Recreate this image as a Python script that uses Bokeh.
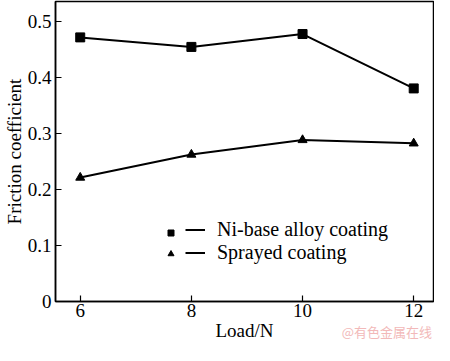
from bokeh.plotting import figure
from bokeh.models import Legend, LegendItem, FixedTicker, Range1d, LinearAxis
from bokeh.embed import file_html
from bokeh.resources import INLINE

loads = [6, 8, 10, 12]
ni_base = [0.471, 0.454, 0.477, 0.380]
sprayed = [0.221, 0.262, 0.288, 0.282]
x_ticks = [6, 8, 10, 12]
y_ticks = [0, 0.1, 0.2, 0.3, 0.4, 0.5]
y_tick_labels = ["0", "0.1", "0.2", "0.3", "0.4", "0.5"]
series_names = ["Ni-base alloy coating", "Sprayed coating"]
x_label = "Load/N"
y_label = "Friction coefficient"
watermark = "@有色金属在线"

FONT = "Liberation Serif"

p = figure(width=434, height=345, output_backend="svg", toolbar_location=None,
           x_range=Range1d(5.555, 12.356), y_range=Range1d(0, 0.535),
           min_border_left=51, min_border_right=1, min_border_top=1,
           min_border_bottom=44)

p.grid.visible = False
p.outline_line_color = "black"
p.outline_line_width = 1.5
p.background_fill_color = "white"
p.border_fill_color = "white"

for ax in (p.xaxis[0], p.yaxis[0]):
    ax.axis_line_width = 1.5
    ax.axis_line_color = "black"
    ax.major_tick_in = 6
    ax.major_tick_out = 0
    ax.major_tick_line_width = 1.2
    ax.minor_tick_line_color = None
    ax.major_label_text_font = FONT
    ax.major_label_text_font_size = "19px"
    ax.major_label_text_color = "black"
    ax.axis_label_text_font = FONT
    ax.axis_label_text_font_size = "19px"
    ax.axis_label_text_font_style = "normal"
    ax.axis_label_text_color = "black"
    ax.axis_label_standoff = 0

p.xaxis[0].ticker = FixedTicker(ticks=x_ticks)
p.yaxis[0].ticker = FixedTicker(ticks=y_ticks)
p.yaxis[0].major_label_overrides = {t: s for t, s in zip(y_ticks, y_tick_labels)}
p.xaxis[0].major_label_standoff = 2
p.yaxis[0].major_label_standoff = 4
p.xaxis[0].axis_label = x_label
p.yaxis[0].axis_label = y_label

# watermark, drawn as the tick label of an invisible zero-height axis under the x axis
p.extra_x_ranges = {"wm": Range1d(0, 100)}
wm_axis = LinearAxis(x_range_name="wm", ticker=FixedTicker(ticks=[89]),
                     major_label_overrides={89: watermark},
                     axis_line_color=None, major_tick_line_color=None,
                     minor_tick_line_color=None, major_tick_in=0, major_tick_out=0,
                     major_label_standoff=-22,
                     major_label_text_font="Noto Sans CJK SC",
                     major_label_text_font_size="13px",
                     major_label_text_color="#f2b9b9")
p.add_layout(wm_axis, "below")

r1l = p.line(loads, ni_base, line_color="black", line_width=2)
r1m = p.scatter(loads, ni_base, marker="square", size=9, fill_color="black", line_color="black")
r2l = p.line(loads, sprayed, line_color="black", line_width=2)
r2m = p.scatter(loads, sprayed, marker="triangle", size=9, fill_color="black", line_color="black")

common = dict(border_line_alpha=0, background_fill_alpha=0, padding=0, margin=0,
              spacing=0, glyph_height=21, label_height=21,
              label_text_font=FONT, label_text_font_size="20px", label_text_color="black")

leg_markers = Legend(items=[LegendItem(label=" ", renderers=[r1m]),
                            LegendItem(label=" ", renderers=[r2m])],
                     location=(108, 37), glyph_width=15, label_standoff=0, **common)
leg_lines = Legend(items=[LegendItem(label=series_names[0], renderers=[r1l]),
                          LegendItem(label=series_names[1], renderers=[r2l])],
                   location=(130, 37), glyph_width=20, label_standoff=12, **common)
p.add_layout(leg_markers, "center")
p.add_layout(leg_lines, "center")

open("out.html", "w").write(file_html(p, INLINE))
